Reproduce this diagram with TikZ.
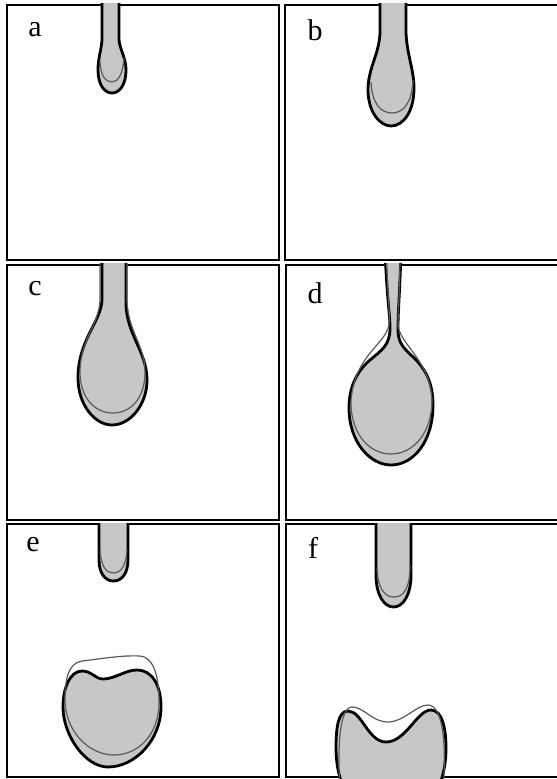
\documentclass[tikz,border=0pt]{standalone}
\usepackage{fontspec}
\setmainfont{Liberation Serif}
\usepackage{tikz}

\definecolor{dropgray}{gray}{0.78}

\begin{document}
\begin{tikzpicture}[x=0.5pt, y=-0.5pt,
  frame/.style={draw,line width=1pt},
  drop/.style={fill=dropgray,draw=black,line width=1.4pt,line join=round},
  contour/.style={draw=black!65,line width=0.6pt},
  tag/.style={font=\fontsize{15}{17}\selectfont,inner sep=0pt}]
\useasboundingbox (0,0) rectangle (556,779);

% frames
\draw[frame] (7,5) rectangle (279,260);
\draw[frame] (285,5) rectangle (560,260);
\draw[frame] (7,265) rectangle (279,520);
\draw[frame] (286,265) rectangle (560,520);
\draw[frame] (7,524) rectangle (279,777);
\draw[frame] (286,524) rectangle (560,777);

% a
\begin{scope}
\clip (6,4) rectangle (280,261);
\path[drop] (102,-10) -- (102,40) .. controls (101,52) and (98,58) .. (98,70)
  .. controls (98,84) and (104,93) .. (112,93) .. controls (120,93) and (126,84) .. (126,70)
  .. controls (126,58) and (120,50) .. (119,40) -- (119,-10) -- cycle;
\path[contour] (100,60) .. controls (100,76) and (106,82) .. (112,82)
  .. controls (118,82) and (123,74) .. (124,58);
\end{scope}

% b
\begin{scope}
\clip (284,4) rectangle (560,261);
\path[drop] (380,-10) -- (380,33) .. controls (379,55) and (368,68) .. (368,90)
  .. controls (368,112) and (380,126) .. (391,126) .. controls (403,126) and (414,112) .. (414,88)
  .. controls (414,70) and (407,55) .. (406,33) -- (406,-10) -- cycle;
\path[contour] (371,82) .. controls (372,104) and (381,113) .. (392,113)
  .. controls (404,113) and (412,102) .. (413,80);
\end{scope}

% c
\begin{scope}
\clip (6,264) rectangle (280,521);
\path[drop] (102,250) -- (102,300) .. controls (101,322) and (78,340) .. (78,378)
  .. controls (78,405) and (95,425) .. (112,425) .. controls (130,425) and (147,405) .. (147,380)
  .. controls (147,352) and (127,335) .. (126,305) -- (126,250) -- cycle;
\path[contour] (100,250) -- (100,300) .. controls (99,325) and (80,340) .. (80,372)
  .. controls (80,398) and (95,413) .. (113,413) .. controls (131,413) and (145,398) .. (145,372)
  .. controls (145,345) and (128,332) .. (127,300) -- (127,250);
\end{scope}

% d
\begin{scope}
\clip (285,264) rectangle (560,521);
\path[drop] (385,250) .. controls (387,300) and (390,315) .. (390,328)
  .. controls (390,345) and (382,350) .. (370,360) .. controls (356,372) and (349,388) .. (349,408)
  .. controls (349,442) and (370,465) .. (391,465) .. controls (413,465) and (433,442) .. (433,405)
  .. controls (433,382) and (425,368) .. (412,356) .. controls (400,345) and (398,340) .. (398,328)
  .. controls (398,310) and (400,290) .. (401,250) -- cycle;
\path[contour] (386,250) .. controls (388,300) and (390,312) .. (389,325)
  .. controls (385,345) and (355,355) .. (351,400) .. controls (350,432) and (368,454) .. (391,454)
  .. controls (414,454) and (432,432) .. (432,400) .. controls (430,360) and (400,345) .. (398,325)
  .. controls (398,310) and (400,290) .. (400,250);
\end{scope}

% e
\begin{scope}
\clip (6,523) rectangle (280,779);
\path[drop] (99,510) -- (99,560) .. controls (99,573) and (105,581) .. (113.5,581)
  .. controls (122,581) and (128,573) .. (128,560) -- (128,510) -- cycle;
\path[contour] (100,550) .. controls (101,566) and (106,573) .. (113,573)
  .. controls (121,573) and (126,566) .. (127,550);
\path[drop] (103,679) .. controls (115,679) and (125,670) .. (137,670)
  .. controls (152,670) and (161,685) .. (161,707) .. controls (161,740) and (135,767) .. (108,767)
  .. controls (85,767) and (63,735) .. (63,707) .. controls (63,688) and (70,671) .. (82,671)
  .. controls (92,671) and (95,679) .. (103,679) -- cycle;
\path[contour] (65,700) .. controls (65,680) and (68,663) .. (82,661)
  .. controls (100,659) and (122,655) .. (140,656) .. controls (152,657) and (159,672) .. (159,702)
  .. controls (159,735) and (138,755) .. (114,755) .. controls (88,755) and (65,730) .. (65,700) -- cycle;
\end{scope}

% f
\begin{scope}
\clip (285,523) rectangle (560,779);
\path[drop] (376,510) -- (376,575) .. controls (376,595) and (384,607) .. (393.5,607)
  .. controls (403,607) and (411,595) .. (411,575) -- (411,510) -- cycle;
\path[contour] (377,568) .. controls (378,588) and (384,597) .. (394,597)
  .. controls (404,597) and (410,588) .. (410,565);
\path[drop] (386,742) .. controls (406,742) and (417,710) .. (431,710)
  .. controls (442,710) and (446,728) .. (446,748) .. controls (446,770) and (440,790) .. (430,800)
  -- (352,800) .. controls (342,790) and (336,770) .. (336,748)
  .. controls (336,728) and (338,711) .. (348,711) .. controls (362,711) and (368,742) .. (386,742) -- cycle;
\path[contour] (340,790) .. controls (337,745) and (340,707) .. (352,707)
  .. controls (364,707) and (372,722) .. (388,722) .. controls (404,722) and (416,705) .. (428,705)
  .. controls (442,705) and (447,740) .. (443,790);
\end{scope}

% panel letters
\node[tag] (la) at (35,29.5) {a};
\node[tag] (lb) at (315,30) {b};
\node[tag] (lc) at (35,289) {c};
\node[tag] (ld) at (315,293) {d};
\node[tag] (le) at (33,545) {e};
\node[tag] (lf) at (313,548) {f};
\end{tikzpicture}
\end{document}
